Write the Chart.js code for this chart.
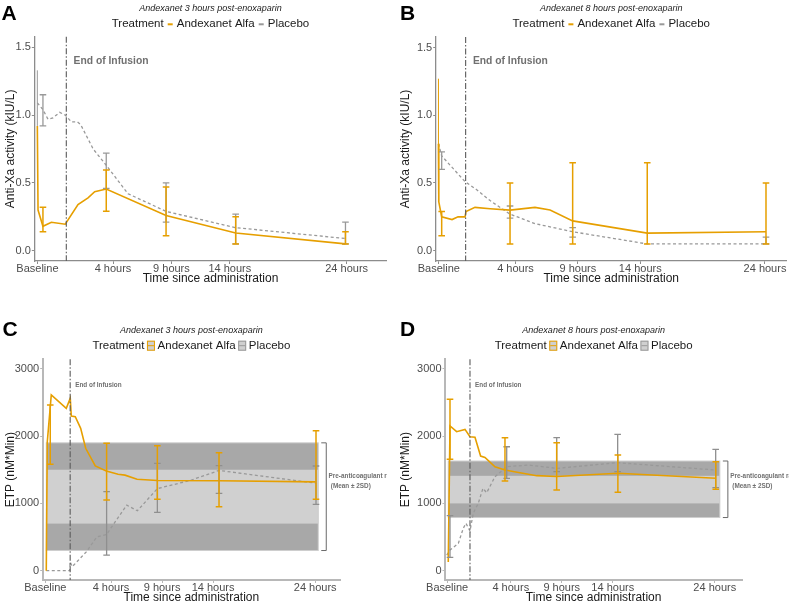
<!DOCTYPE html>
<html>
<head>
<meta charset="utf-8">
<script src="https://cdn.jsdelivr.net/npm/chart.js@4.4.0/dist/chart.umd.min.js"></script>
<style>
  html, body { margin: 0; padding: 0; background: #fff; overflow: hidden; }
  body { width: 789px; height: 604px; position: relative; }
  canvas { position: absolute; }
</style>
</head>
<body>
<canvas id="chartA" width="395" height="300" style="left:0;top:0"></canvas>
<canvas id="chartB" width="394" height="300" style="left:395px;top:0"></canvas>
<canvas id="chartC" width="387" height="310" style="left:0;top:300px"></canvas>
<canvas id="chartD" width="394" height="310" style="left:395px;top:300px"></canvas>
<script>
// shared labels / ticks
var xTickLabels = ['Baseline', '4 hours', '9 hours', '14 hours', '24 hours'];
var antiXaTicks = [0, 0.5, 1.0, 1.5];
var etpTicks = [0, 1000, 2000, 3000];

// A - anti-Xa, andexanet 3 h post-enoxaparin (x = hours from end of infusion)
var aTicks = [-2.47, 4, 9, 14, 24];
var aAndexT = [-2.48, -2.42, -2.0, -1.28, -0.09, 1.0, 1.86, 2.43, 3.42, 8.54, 14.5, 23.9];
var aAndexV = [0.92, 0.30, 0.18, 0.21, 0.195, 0.34, 0.39, 0.435, 0.455, 0.26, 0.13, 0.05];
var aPlaceboT = [-2.48, -2.0, -1.57, -1.14, -0.57, -0.09, 0.43, 0.94, 1.23, 2.3, 3.42, 5.28, 8.54, 14.5, 23.9];
var aPlaceboV = [1.09, 1.04, 0.97, 0.98, 1.02, 1.0, 0.95, 0.95, 0.93, 0.75, 0.63, 0.42, 0.29, 0.17, 0.09];
var aAndexErrT = [-2.0, 3.42, 8.54, 14.5, 23.9];
var aAndexLo = [0.14, 0.29, 0.11, 0.05, 0.05];
var aAndexHi = [0.32, 0.595, 0.47, 0.25, 0.14];
var aPlaceboErrT = [-2.0, 3.42, 8.54, 14.5, 23.9];
var aPlaceboLo = [0.92, 0.46, 0.21, 0.05, 0.05];
var aPlaceboHi = [1.15, 0.72, 0.50, 0.27, 0.21];
var aPlaceboSpread = [-2.48, 0.92, 1.33];   // t, lo, hi (no caps)

// B - anti-Xa, andexanet 8 h post-enoxaparin
var bTicks = [-2.15, 4, 9, 14, 24];
var bAndexT = [-2.18, -2.15, -1.92, -1.09, -0.61, -0.05, 0.03, 0.75, 1.96, 3.56, 5.56, 6.77, 8.58, 14.56, 24.08];
var bAndexV = [0.79, 0.36, 0.25, 0.23, 0.25, 0.25, 0.29, 0.32, 0.31, 0.30, 0.32, 0.30, 0.22, 0.13, 0.14];
var bPlaceboT = [-2.18, -1.92, -0.05, 0.89, 1.96, 3.56, 5.56, 8.58, 14.56, 24.08];
var bPlaceboV = [0.79, 0.70, 0.51, 0.45, 0.37, 0.27, 0.20, 0.14, 0.05, 0.05];
var bAndexErrT = [-1.92, 3.56, 8.58, 14.56, 24.08];
var bAndexLo = [0.11, 0.05, 0.05, 0.05, 0.05];
var bAndexHi = [0.29, 0.50, 0.65, 0.65, 0.50];
var bPlaceboErrT = [-1.92, 3.56, 8.58, 24.08];
var bPlaceboLo = [0.60, 0.24, 0.10, 0.05];
var bPlaceboHi = [0.73, 0.33, 0.17, 0.10];
var bAndexSpread = [-2.18, 0.36, 1.27];

// C - ETP, andexanet 3 h post-enoxaparin
var cTicks = [-2.43, 4, 9, 14, 24];
var cAndexT = [-2.34, -2.24, -1.85, -0.38, 0.01, 0.11, 0.5, 1.03, 1.52, 2.46, 3.54, 4.69, 5.37, 6.55, 8.54, 14.58, 24.08];
var cAndexV = [0, 1917, 2611, 2413, 2562, 2299, 2288, 2116, 1819, 1556, 1481, 1432, 1420, 1360, 1340, 1337, 1320];
var cPlaceboT = [-2.34, -0.05, 0.0, 0.21, 1.58, 2.6, 3.57, 5.54, 6.58, 8.54, 11.74, 14.58, 24.08];
var cPlaceboV = [0, 0, 130, 60, 280, 500, 540, 975, 890, 1220, 1340, 1490, 1300];
var cAndexErrT = [-1.95, 3.57, 8.54, 14.58, 24.08];
var cAndexLo = [1581, 1050, 1061, 951, 1061];
var cAndexHi = [2462, 1893, 1857, 1753, 2080];
var cPlaceboErrT = [3.57, 8.54, 14.58, 24.08];
var cPlaceboLo = [233, 867, 1150, 987];
var cPlaceboHi = [1174, 1596, 1560, 1556];
var cRangeOuter = [300, 1900];   // pre-anticoagulant mean +/- 2SD
var cRangeInner = [700, 1500];
var cRangeSpan = [-2.34, 24.3];

// D - ETP, andexanet 8 h post-enoxaparin
var dTicks = [-2.24, 4, 9, 14, 24];
var dAndexT = [-2.13, -1.96, -1.31, -0.49, 0, 0.49, 1.04, 1.47, 2.45, 3.43, 4.9, 6.54, 8.5, 14.5, 24.1];
var dAndexV = [130, 2150, 2065, 2100, 1990, 1982, 1704, 1684, 1545, 1496, 1456, 1412, 1400, 1447, 1373];
var dPlaceboT = [-2.28, -1.96, -1.14, -0.66, -0.4, 0, 0.32, 0.81, 1.27, 1.64, 2.45, 3.6, 5.72, 8.5, 14.48, 24.09];
var dPlaceboV = [233, 307, 407, 630, 704, 590, 853, 1000, 1224, 1159, 1397, 1545, 1570, 1521, 1605, 1496];
var dAndexErrT = [-1.96, 3.43, 8.5, 14.5, 24.1];
var dAndexLo = [1655, 1333, 1199, 1165, 1209];
var dAndexHi = [2547, 1976, 1902, 1719, 1620];
var dPlaceboErrT = [-1.96, 3.6, 8.5, 14.48, 24.09];
var dPlaceboLo = [199, 1373, 1471, 1471, 1233];
var dPlaceboHi = [817, 1842, 1976, 2026, 1802];
var dRangeOuter = [790, 1630];
var dRangeInner = [1000, 1410];
var dRangeSpan = [-2.13, 24.5];

var ORANGE = '#E69F00';
var GREY = '#999999';
var FONT = '"Liberation Sans", Arial, Helvetica, sans-serif';

function pts(ts, vs) {
  return ts.map(function (t, i) { return { x: t, y: vs[i] }; });
}

function drawErrorBars(ctx, sx, sy, ts, lo, hi, color, width, cap) {
  ctx.save();
  ctx.strokeStyle = color;
  ctx.lineWidth = width;
  for (var i = 0; i < ts.length; i++) {
    var x = sx.getPixelForValue(ts[i]);
    var y1 = sy.getPixelForValue(lo[i]);
    var y2 = sy.getPixelForValue(hi[i]);
    ctx.beginPath();
    ctx.moveTo(x, y1); ctx.lineTo(x, y2);
    if (cap) {
      ctx.moveTo(x - cap, y1); ctx.lineTo(x + cap, y1);
      ctx.moveTo(x - cap, y2); ctx.lineTo(x + cap, y2);
    }
    ctx.stroke();
  }
  ctx.restore();
}

function drawLegend(ctx, cx, y, boxed) {
  ctx.save();
  ctx.font = '11.5px ' + FONT;
  ctx.textBaseline = 'middle';
  ctx.textAlign = 'left';
  var gap = boxed ? 2.6 : 4;
  var keyW = boxed ? 8 : 5;
  var parts = [
    { text: 'Treatment' }, { key: ORANGE }, { text: 'Andexanet Alfa' }, { key: GREY }, { text: 'Placebo' }
  ];
  var total = 0;
  parts.forEach(function (p, i) {
    p.w = p.text ? ctx.measureText(p.text).width : keyW;
    total += p.w + (i ? gap : 0);
  });
  var x = cx - total / 2;
  parts.forEach(function (p, i) {
    if (i) x += gap;
    if (p.text) {
      ctx.fillStyle = '#1a1a1a';
      ctx.fillText(p.text, x, y);
    } else if (boxed) {
      ctx.fillStyle = '#d0d0d0';
      ctx.fillRect(x, y - 5, keyW, 10);
      ctx.strokeStyle = p.key;
      ctx.lineWidth = 1;
      ctx.strokeRect(x + 0.5, y - 4.5, keyW - 1, 9);
      ctx.beginPath();
      ctx.moveTo(x + 1, y); ctx.lineTo(x + keyW - 1, y);
      ctx.stroke();
    } else {
      ctx.strokeStyle = p.key;
      ctx.lineWidth = 2;
      ctx.beginPath();
      ctx.moveTo(x, y); ctx.lineTo(x + keyW, y);
      ctx.stroke();
    }
    x += p.w;
  });
  ctx.restore();
}

function makePanel(cfg) {
  var canvas = document.getElementById(cfg.id);
  var W = canvas.width, H = canvas.height;
  var etp = cfg.kind === 'etp';
  var axisColor = etp ? '#b8b8b8' : '#8c8c8c';
  var axisWidth = etp ? 2 : 1.3;

  var decor = {
    id: 'decor',
    beforeDatasetsDraw: function (chart) {
      if (!cfg.outer) return;
      var ctx = chart.ctx, sx = chart.scales.x, sy = chart.scales.y;
      var x1 = sx.getPixelForValue(cfg.span[0]);
      var x2 = sx.getPixelForValue(cfg.span[1]);
      ctx.save();
      [[cfg.outer, '#a8a8a8'], [cfg.inner, '#d0d0d0']].forEach(function (b) {
        var yt = sy.getPixelForValue(b[0][1]);
        var yb = sy.getPixelForValue(b[0][0]);
        ctx.fillStyle = b[1];
        ctx.fillRect(x1, yt, x2 - x1, yb - yt);
      });
      ctx.strokeStyle = '#cfcfcf';
      ctx.lineWidth = 1;
      var ot = sy.getPixelForValue(cfg.outer[1]), ob = sy.getPixelForValue(cfg.outer[0]);
      ctx.strokeRect(x1, ot, x2 - x1, ob - ot);
      ctx.restore();
    },
    afterDatasetsDraw: function (chart) {
      var ctx = chart.ctx, sx = chart.scales.x, sy = chart.scales.y, ca = chart.chartArea;
      var cap = 3.3;
      drawErrorBars(ctx, sx, sy, cfg.pErrT, cfg.pLo, cfg.pHi, etp ? '#8f8f8f' : GREY, 1.3, cap);
      drawErrorBars(ctx, sx, sy, cfg.aErrT, cfg.aLo, cfg.aHi, ORANGE, 1.5, cap);
      if (cfg.pSpread) {
        drawErrorBars(ctx, sx, sy, [cfg.pSpread[0]], [cfg.pSpread[1]], [cfg.pSpread[2]], GREY, 1, 0);
      }
      if (cfg.aSpread) {
        drawErrorBars(ctx, sx, sy, [cfg.aSpread[0]], [cfg.aSpread[1]], [cfg.aSpread[2]], ORANGE, 1, 0);
      }

      // end of infusion marker
      var x0 = sx.getPixelForValue(0);
      ctx.save();
      ctx.strokeStyle = '#5a5a5a';
      ctx.lineWidth = 1.1;
      ctx.setLineDash([6, 2, 1.5, 2]);
      ctx.beginPath();
      ctx.moveTo(x0, ca.top); ctx.lineTo(x0, ca.bottom);
      ctx.stroke();
      ctx.setLineDash([]);
      ctx.fillStyle = '#707070';
      ctx.textBaseline = 'middle';
      ctx.font = 'bold ' + (etp ? '6.4px ' : '10.3px ') + FONT;
      ctx.fillText('End of Infusion', x0 + (etp ? 5 : 7.3), ca.top + (etp ? 26.4 : 24.3));

      // pre-anticoagulant bracket
      if (cfg.outer) {
        var xr = sx.getPixelForValue(cfg.span[1]);
        var yt = sy.getPixelForValue(cfg.outer[1]);
        var yb = sy.getPixelForValue(cfg.outer[0]);
        ctx.strokeStyle = '#6a6a6a';
        ctx.lineWidth = 1;
        ctx.beginPath();
        ctx.moveTo(xr + 3, yt); ctx.lineTo(xr + 8, yt);
        ctx.lineTo(xr + 8, yb); ctx.lineTo(xr + 3, yb);
        ctx.stroke();
        ctx.fillStyle = '#707070';
        ctx.font = 'bold 6.4px ' + FONT;
        var ty = sy.getPixelForValue(1400);
        ctx.fillText('Pre-anticoagulant range', xr + 10.3, ty);
        ctx.fillText('(Mean \u00b1 2SD)', xr + 12.5, ty + 9.5);
      }
      ctx.restore();
    },
    afterDraw: function (chart) {
      var ctx = chart.ctx, ca = chart.chartArea;
      var cx = (ca.left + ca.right) / 2;
      ctx.save();
      ctx.fillStyle = '#000';
      ctx.font = 'bold 21px ' + FONT;
      ctx.textBaseline = 'alphabetic';
      ctx.fillText(cfg.letter, cfg.letterX, cfg.letterY);
      ctx.font = 'italic 9px ' + FONT;
      ctx.fillStyle = '#222';
      ctx.textAlign = 'center';
      ctx.textBaseline = 'middle';
      ctx.fillText(cfg.subtitle, cx, cfg.subY);
      ctx.restore();
      drawLegend(ctx, cx, cfg.legY, etp);
    }
  };

  return new Chart(canvas, {
    type: 'line',
    data: {
      datasets: [
        { label: 'Andexanet Alfa', data: pts(cfg.aT, cfg.aV), borderColor: ORANGE, borderWidth: 1.6,
          pointRadius: 0, tension: 0, fill: false },
        { label: 'Placebo', data: pts(cfg.pT, cfg.pV), borderColor: GREY, borderWidth: 1.3,
          borderDash: [3, 2.5], pointRadius: 0, tension: 0, fill: false }
      ]
    },
    options: {
      responsive: false,
      animation: false,
      devicePixelRatio: 1,
      layout: { padding: { top: cfg.top, right: W - cfg.right, bottom: 0, left: 0 } },
      plugins: { legend: { display: false }, title: { display: false }, tooltip: { enabled: false } },
      scales: {
        x: {
          type: 'linear', min: cfg.xMin, max: cfg.xMax,
          afterFit: function (s) { s.height = H - cfg.bottom; },
          afterBuildTicks: function (s) { s.ticks = cfg.xTicks.map(function (v) { return { value: v }; }); },
          ticks: {
            autoSkip: false, maxRotation: 0, padding: -2, color: '#4d4d4d',
            font: { family: FONT, size: 11 },
            callback: function (v, i) { return xTickLabels[i]; }
          },
          grid: { drawOnChartArea: false, drawTicks: true, tickLength: 3, color: axisColor, lineWidth: 1 },
          border: { color: axisColor, width: axisWidth },
          title: { display: true, text: 'Time since administration', color: '#1a1a1a',
            font: { family: FONT, size: 12 }, padding: { top: 0, bottom: cfg.titlePad } }
        },
        y: {
          min: cfg.yMin, max: cfg.yMax,
          afterFit: function (s) { s.width = cfg.left; },
          afterBuildTicks: function (s) { s.ticks = cfg.yTicks.map(function (v) { return { value: v }; }); },
          ticks: {
            padding: 1, color: '#4d4d4d', font: { family: FONT, size: 11 },
            callback: function (v) { return etp ? String(v) : v.toFixed(1); }
          },
          grid: { drawOnChartArea: false, drawTicks: true, tickLength: 2.5, color: axisColor, lineWidth: 1 },
          border: { color: axisColor, width: axisWidth },
          title: { display: true, text: cfg.yTitle, color: '#1a1a1a',
            font: { family: FONT, size: 12 }, padding: { top: 3, bottom: 0 } }
        }
      }
    },
    plugins: [decor]
  });
}

makePanel({
  id: 'chartA', kind: 'axa', letter: 'A', letterX: 1.5, letterY: 20, subY: 8.3, legY: 24.3,
  subtitle: 'Andexanet 3 hours post-enoxaparin', yTitle: 'Anti-Xa activity (kIU/L)',
  left: 34.3, right: 386.7, top: 36.7, bottom: 261, titlePad: 14,
  xMin: -2.74, xMax: 27.43, yMin: -0.076, yMax: 1.578, xTicks: aTicks, yTicks: antiXaTicks,
  aT: aAndexT, aV: aAndexV, pT: aPlaceboT, pV: aPlaceboV,
  aErrT: aAndexErrT, aLo: aAndexLo, aHi: aAndexHi,
  pErrT: aPlaceboErrT, pLo: aPlaceboLo, pHi: aPlaceboHi, pSpread: aPlaceboSpread
});

makePanel({
  id: 'chartB', kind: 'axa', letter: 'B', letterX: 5, letterY: 20, subY: 8.3, legY: 24.3,
  subtitle: 'Andexanet 8 hours post-enoxaparin', yTitle: 'Anti-Xa activity (kIU/L)',
  left: 40.7, right: 391.7, top: 37, bottom: 261, titlePad: 14,
  xMin: -2.40, xMax: 25.74, yMin: -0.076, yMax: 1.578, xTicks: bTicks, yTicks: antiXaTicks,
  aT: bAndexT, aV: bAndexV, pT: bPlaceboT, pV: bPlaceboV,
  aErrT: bAndexErrT, aLo: bAndexLo, aHi: bAndexHi,
  pErrT: bPlaceboErrT, pLo: bPlaceboLo, pHi: bPlaceboHi, aSpread: bAndexSpread
});

makePanel({
  id: 'chartC', kind: 'etp', letter: 'C', letterX: 2.5, letterY: 36, subY: 30.7, legY: 45.7,
  subtitle: 'Andexanet 3 hours post-enoxaparin', yTitle: 'ETP (nM*Min)',
  left: 42.7, right: 340, top: 59.3, bottom: 280, titlePad: 5,
  xMin: -2.69, xMax: 26.43, yMin: -138, yMax: 3141, xTicks: cTicks, yTicks: etpTicks,
  aT: cAndexT, aV: cAndexV, pT: cPlaceboT, pV: cPlaceboV,
  aErrT: cAndexErrT, aLo: cAndexLo, aHi: cAndexHi,
  pErrT: cPlaceboErrT, pLo: cPlaceboLo, pHi: cPlaceboHi,
  outer: cRangeOuter, inner: cRangeInner, span: cRangeSpan
});

makePanel({
  id: 'chartD', kind: 'etp', letter: 'D', letterX: 5, letterY: 36, subY: 30.7, legY: 45.7,
  subtitle: 'Andexanet 8 hours post-enoxaparin', yTitle: 'ETP (nM*Min)',
  left: 50, right: 347.3, top: 59.3, bottom: 280, titlePad: 5,
  xMin: -2.45, xMax: 26.7, yMin: -138, yMax: 3141, xTicks: dTicks, yTicks: etpTicks,
  aT: dAndexT, aV: dAndexV, pT: dPlaceboT, pV: dPlaceboV,
  aErrT: dAndexErrT, aLo: dAndexLo, aHi: dAndexHi,
  pErrT: dPlaceboErrT, pLo: dPlaceboLo, pHi: dPlaceboHi,
  outer: dRangeOuter, inner: dRangeInner, span: dRangeSpan
});
</script>
</body>
</html>
